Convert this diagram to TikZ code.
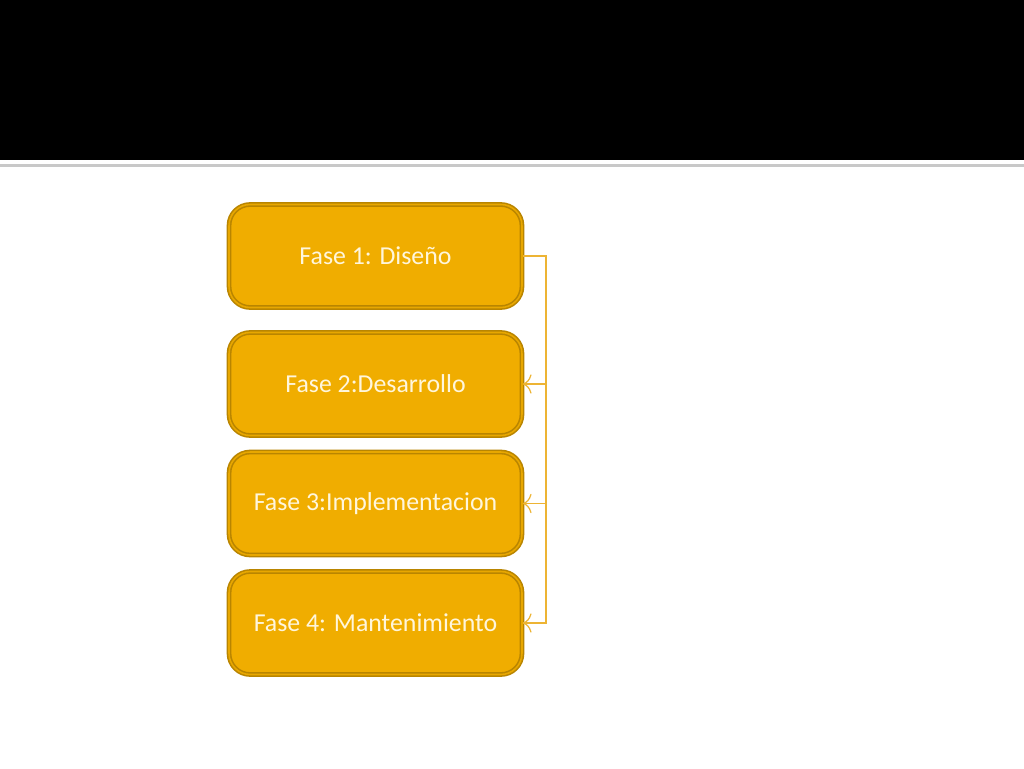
\documentclass[tikz,border=0pt]{standalone}
\usepackage{fontspec}
\setmainfont{Carlito}
\usetikzlibrary{arrows.meta}
\definecolor{phasefill}{HTML}{F0AD00}
\definecolor{phaseedge}{HTML}{B98500}
\definecolor{phasetext}{HTML}{FFF6DC}
\definecolor{linkline}{HTML}{EDB434}
\definecolor{rulegrey}{HTML}{C8C8C8}
\tikzset{
	phase/.style = {draw = phaseedge, line width = 0.9pt, double = phasefill!85!phaseedge, double distance = 0.9pt,
		fill = phasefill, rounded corners = 12pt, minimum width = 5.86cm, minimum height = 2.06cm,
		inner sep = 0pt, text = phasetext, font = \fontsize{14.7}{17}\selectfont},
	link/.style = {draw = linkline, line width = 0.7pt},
}

\begin{document}
\begin{tikzpicture}[x = 0.02cm, y = -0.02cm]

	% Page
	
	\useasboundingbox (0, 0) rectangle (1024, 768);
	\fill [white] (0, 0) rectangle (1024, 768);
	\fill [black] (0, 0) rectangle (1024, 160);
	\fill [rulegrey] (0, 164) rectangle (1024, 166.5);
	
	% Phases
	
	\node [phase] (p1) at (375.5, 256) {Fase 1: Diseño};
	\node [phase] (p2) at (375.5, 384) {Fase 2:Desarrollo};
	\node [phase] (p3) at (375.5, 503.5) {Fase 3:Implementacion};
	\node [phase] (p4) at (375.5, 623) {Fase 4: Mantenimiento};
	
	% Connector
	
	\coordinate (bus) at (546, 256);
	\draw [link] (p1.east) -- (bus) |- (p4.east);
	\foreach \p in {p2, p3, p4}
		\draw [link, -{To[length = 5pt, width = 11pt]}] (bus |- \p.east) -- (\p.east);

\end{tikzpicture}
\end{document}
